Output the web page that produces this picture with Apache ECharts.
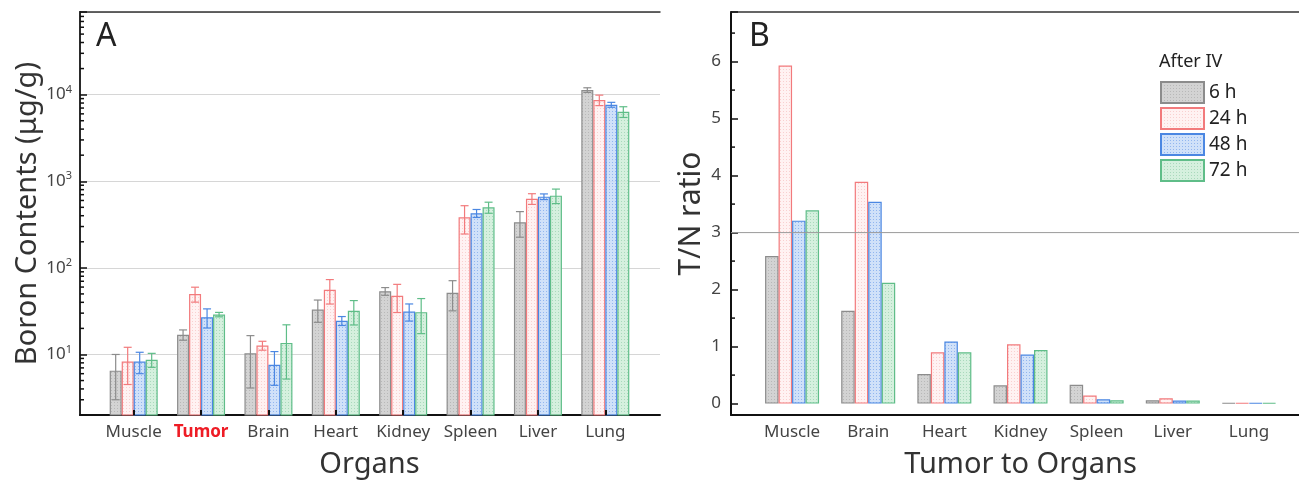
<!DOCTYPE html>
<html>
<head>
<meta charset="utf-8">
<script src="https://cdn.jsdelivr.net/npm/echarts@6/dist/echarts.min.js"></script>
<style>
html, body { margin: 0; padding: 0; background: #fff; }
#chart { width: 1299px; height: 484px; }
</style>
</head>
<body>
<div id="chart"></div>
<script>
// ---- data ----
const organsA = ['Muscle', 'Tumor', 'Brain', 'Heart', 'Kidney', 'Spleen', 'Liver', 'Lung'];
const organsB = ['Muscle', 'Brain', 'Heart', 'Kidney', 'Spleen', 'Liver', 'Lung'];
const times = ['6 h', '24 h', '48 h', '72 h'];

// boron contents (ug/g), mean and sd
const boron6h = [6.5, 16.9, 10.3, 33, 53.7, 51.5, 336, 11300];
const boron6hSd = [3.5, 2.3, 6.2, 9.5, 5.5, 19.6, 110, 700];
const boron24h = [8.3, 50, 12.7, 55.7, 47.5, 384, 629, 8670];
const boron24hSd = [3.8, 9.8, 1.5, 17.5, 17, 138, 89, 1200];
const boron48h = [8.3, 26.9, 7.6, 24.5, 31.3, 427, 664, 7650];
const boron48hSd = [2.3, 6.7, 3.2, 2.9, 7, 45, 50, 500];
const boron72h = [8.7, 28.9, 13.6, 31.9, 30.8, 500, 682, 6350];
const boron72hSd = [1.6, 1.7, 8.4, 10, 13.4, 73, 130, 900];

// tumor / normal ratio
const ratio6h = [2.59, 1.63, 0.52, 0.32, 0.33, 0.06, 0.012];
const ratio24h = [5.93, 3.89, 0.90, 1.04, 0.14, 0.095, 0.012];
const ratio48h = [3.21, 3.54, 1.09, 0.86, 0.077, 0.055, 0.012];
const ratio72h = [3.39, 2.12, 0.90, 0.94, 0.06, 0.055, 0.012];
const ratioThreshold = 3;

const boronMin = 2, boronMax = 90000;
const ratioMin = -0.2, ratioMax = 6.87;

// ---- styles ----
const FONT = 'Noto Sans';
const barWA = 12, barWB = 13.5;

function pattern(bg, dot) {
	let c = document.createElement('canvas');
	c.width = 3; c.height = 3;
	let ctx = c.getContext('2d');
	ctx.fillStyle = bg;
	ctx.fillRect(0, 0, 3, 3);
	ctx.fillStyle = dot;
	ctx.fillRect(0, 0, 1, 1);
	return { image: c, repeat: 'repeat' };
}

const looks = [
	{ fill: pattern('rgba(206,206,206,0.9)', 'rgba(182,182,182,0.9)'), line: '#8c8c8c' },
	{ fill: pattern('rgba(255,240,240,0.85)', 'rgba(248,205,205,0.9)'), line: '#f27a7c' },
	{ fill: pattern('rgba(200,220,248,0.85)', 'rgba(140,178,238,0.9)'), line: '#4b87e2' },
	{ fill: pattern('rgba(206,237,216,0.85)', 'rgba(165,215,185,0.9)'), line: '#5fbd88' }
];

const boronMeans = [boron6h, boron24h, boron48h, boron72h];
const boronSds = [boron6hSd, boron24hSd, boron48hSd, boron72hSd];
const ratios = [ratio6h, ratio24h, ratio48h, ratio72h];

// minor tick values along the axes
let minorA = [];
[1, 10, 100, 1000, 10000].forEach(function(d) {
	for (let m = 2; m <= 9; m++) {
		if (m * d > boronMin && m * d < boronMax) minorA.push(m * d);
	}
});
let minorB = [];
for (let v = 0.5; v < ratioMax; v += 1) minorB.push(v);

function minorTickSeries(xi, yi, values) {
	return {
		type: 'custom', xAxisIndex: xi, yAxisIndex: yi, silent: true, z: 6,
		data: values.map(function(v) { return [0, v]; }),
		renderItem: function(params, api) {
			let p = api.coord([0, api.value(1)]);
			return {
				type: 'line',
				shape: { x1: p[0], y1: p[1], x2: p[0] + 4, y2: p[1] },
				style: { stroke: '#111', lineWidth: 1.5 }
			};
		}
	};
}

function errorSeries(k) {
	let color = looks[k].line;
	return {
		type: 'custom', name: 'err' + k, xAxisIndex: 2, yAxisIndex: 2, silent: true, z: 5,
		data: boronMeans[k].map(function(m, i) { return [i, m, boronSds[k][i]]; }),
		renderItem: function(params, api) {
			let x = api.value(0), m = api.value(1), sd = api.value(2);
			let px = api.coord([x, m])[0] + (k - 1.5) * barWA;
			let top = api.coord([x, m + sd])[1];
			let bot = api.coord([x, Math.max(m - sd, boronMin * 1.01)])[1];
			let st = { stroke: color, lineWidth: 1.2 };
			return {
				type: 'group',
				children: [
					{ type: 'line', shape: { x1: px, y1: top, x2: px, y2: bot }, style: st },
					{ type: 'line', shape: { x1: px - 4, y1: top, x2: px + 4, y2: top }, style: st },
					{ type: 'line', shape: { x1: px - 4, y1: bot, x2: px + 4, y2: bot }, style: st }
				]
			};
		}
	};
}

let series = [];

times.forEach(function(t, k) {
	series.push({
		name: t, type: 'bar', xAxisIndex: 2, yAxisIndex: 2,
		barWidth: barWA, barGap: 0, clip: true,
		itemStyle: { color: looks[k].fill, borderColor: looks[k].line, borderWidth: 1.2 },
		data: boronMeans[k]
	});
});
times.forEach(function(t, k) { series.push(errorSeries(k)); });

times.forEach(function(t, k) {
	series.push({
		name: t, type: 'bar', xAxisIndex: 5, yAxisIndex: 4,
		barWidth: barWB, barGap: 0,
		itemStyle: { color: looks[k].fill, borderColor: looks[k].line, borderWidth: 1.2 },
		data: ratios[k]
	});
});

series.push({
	type: 'line', xAxisIndex: 3, yAxisIndex: 3, silent: true, z: 4,
	symbol: 'none', lineStyle: { color: '#9a9a9a', width: 1 },
	data: [[0, ratioThreshold], [1, ratioThreshold]]
});

series.push(minorTickSeries(0, 0, minorA));
series.push(minorTickSeries(3, 3, minorB));

function frameX(gi, pos, w, color) {
	return {
		type: 'value', gridIndex: gi, position: pos, min: 0, max: 1,
		axisLine: { show: true, onZero: false, lineStyle: { color: color, width: w } },
		axisTick: { show: false }, axisLabel: { show: false }, splitLine: { show: false }
	};
}

let labelStyle = { color: '#444', fontSize: 17, fontFamily: FONT };

let option = {
	animation: false,
	backgroundColor: '#fff',
	textStyle: { fontFamily: FONT },
	title: [
		{ text: 'A', left: 91, top: 16, textStyle: { fontSize: 32, fontWeight: 'normal', color: '#222', fontFamily: FONT } },
		{ text: 'B', left: 744, top: 16, textStyle: { fontSize: 32, fontWeight: 'normal', color: '#222', fontFamily: FONT } },
		{ text: 'After IV', left: 1154, top: 48, textStyle: { fontSize: 18, fontWeight: 'normal', color: '#222', fontFamily: FONT } }
	],
	legend: {
		data: times, orient: 'vertical', left: 1155, top: 76,
		itemWidth: 43, itemHeight: 21, itemGap: 3, icon: 'rect',
		textStyle: { fontSize: 19, color: '#222', fontFamily: FONT },
		selectedMode: false
	},
	grid: [
		{ left: 80, right: 639, top: 12, bottom: 69 },
		{ left: 100, right: 660, top: 12, bottom: 69 },
		{ left: 731, right: 0, top: 12, bottom: 69 },
		{ left: 754, right: 12, top: 12, bottom: 69 }
	],
	xAxis: [
		frameX(0, 'bottom', 2, '#111'),
		frameX(0, 'top', 1.5, '#333'),
		{
			type: 'category', gridIndex: 1, data: organsA, z: 10,
			axisLine: { show: false },
			axisTick: { show: true, interval: 0, inside: true, alignWithLabel: true, length: 5, lineStyle: { color: '#111', width: 2 } },
			axisLabel: {
				interval: 0, margin: 9, color: '#444', fontSize: 17, fontFamily: FONT,
				formatter: function(v) { return v === 'Tumor' ? '{t|' + v + '}' : '{n|' + v + '}'; },
				rich: {
					t: { color: '#ee1c25', fontWeight: 'bold', fontSize: 17, fontFamily: FONT },
					n: { color: '#444', fontSize: 17, fontFamily: FONT }
				}
			},
			name: 'Organs', nameLocation: 'middle', nameGap: 35,
			nameTextStyle: { fontSize: 29, color: '#333', fontFamily: FONT }
		},
		frameX(2, 'bottom', 2, '#111'),
		frameX(2, 'top', 1.5, '#333'),
		{
			type: 'category', gridIndex: 3, data: organsB,
			axisLine: { show: false }, axisTick: { show: false },
			axisLabel: Object.assign({}, labelStyle, { margin: 9, interval: 0 }),
			name: 'Tumor to Organs', nameLocation: 'middle', nameGap: 35,
			nameTextStyle: { fontSize: 29, color: '#333', fontFamily: FONT }
		}
	],
	yAxis: [
		{
			type: 'log', gridIndex: 0, min: boronMin, max: boronMax,
			axisLine: { show: true, lineStyle: { color: '#111', width: 2 } },
			axisTick: { show: true, inside: true, length: 7, lineStyle: { color: '#111', width: 1.5 } },
			splitLine: { show: true, lineStyle: { color: '#d6d6d6', width: 1 } },
			axisLabel: Object.assign({}, labelStyle, {
				margin: 8,
				formatter: function(v) {
					let e = Math.log10(v), r = Math.round(e);
					if (Math.abs(e - r) > 1e-6) return '';
					return '10{s|' + r + '}';
				},
				rich: { s: { fontSize: 11, color: '#444', padding: [0, 0, 10, 0], fontFamily: FONT } }
			}),
			name: 'Boron Contents (μg/g)', nameLocation: 'middle', nameGap: 36,
			nameTextStyle: { fontSize: 29, color: '#333', fontFamily: FONT }
		},
		{
			type: 'value', gridIndex: 0, position: 'right', min: 0, max: 1,
			axisLine: { show: true, lineStyle: { color: '#333', width: 1.5 } },
			axisTick: { show: false }, axisLabel: { show: false }, splitLine: { show: false }
		},
		{ type: 'log', gridIndex: 1, min: boronMin, max: boronMax, show: false },
		{
			type: 'value', gridIndex: 2, min: ratioMin, max: ratioMax, splitNumber: 7,
			axisLine: { show: true, onZero: false, lineStyle: { color: '#111', width: 2 } },
			axisTick: { show: true, inside: true, length: 7, lineStyle: { color: '#111', width: 1.5 } },
			splitLine: { show: false },
			axisLabel: Object.assign({}, labelStyle, {
				margin: 10,
				formatter: function(v) { return Number.isInteger(v) ? String(v) : ''; }
			}),
			name: 'T/N ratio', nameLocation: 'middle', nameGap: 25,
			nameTextStyle: { fontSize: 30, color: '#333', fontFamily: FONT }
		},
		{ type: 'value', gridIndex: 3, min: ratioMin, max: ratioMax, show: false }
	],
	series: series
};

let myChart = echarts.init(document.getElementById('chart'));
myChart.setOption(option);
</script>
</body>
</html>
